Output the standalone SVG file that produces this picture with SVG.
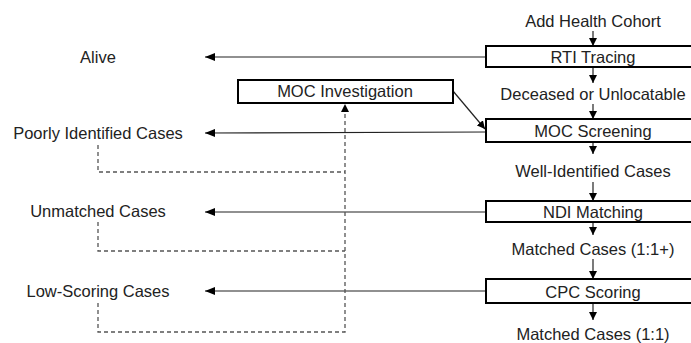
<svg xmlns="http://www.w3.org/2000/svg" width="691" height="343" viewBox="0 0 691 343">
<style>
text{font-family:"Liberation Sans",Arial,sans-serif;font-size:16.5px;fill:#222;text-anchor:middle}
.box{fill:#fff;stroke:#000;stroke-width:2}
.ln{fill:none;stroke:#222;stroke-width:1.2}
.ds{fill:none;stroke:#555;stroke-width:1.3;stroke-dasharray:4 3}
</style>
<defs>
<marker id="ah" markerUnits="userSpaceOnUse" markerWidth="10" markerHeight="8" refX="10" refY="4" orient="auto">
<path d="M0,0 L10,4 L0,8 Z" fill="#000"/>
</marker>
<marker id="ahs" markerUnits="userSpaceOnUse" markerWidth="8" markerHeight="8" refX="8" refY="4" orient="auto">
<path d="M0,0 L8,4 L0,8 Z" fill="#000"/>
</marker>
</defs>
<g id="connectors">
<line class="ln" x1="593" y1="31" x2="593" y2="46" marker-end="url(#ahs)"/>
<line class="ln" x1="593" y1="67" x2="593" y2="83" marker-end="url(#ahs)"/>
<line class="ln" x1="593" y1="104" x2="593" y2="119" marker-end="url(#ahs)"/>
<line class="ln" x1="593" y1="142" x2="593" y2="154" marker-end="url(#ahs)"/>
<line class="ln" x1="593" y1="182" x2="593" y2="201" marker-end="url(#ahs)"/>
<line class="ln" x1="593" y1="222" x2="593" y2="235" marker-end="url(#ahs)"/>
<line class="ln" x1="593" y1="259" x2="593" y2="279" marker-end="url(#ahs)"/>
<line class="ln" x1="593" y1="303" x2="593" y2="320" marker-end="url(#ahs)"/>
<line class="ln" x1="485" y1="57" x2="205" y2="57" marker-end="url(#ah)"/>
<line class="ln" x1="486" y1="132" x2="205" y2="133" marker-end="url(#ah)"/>
<line class="ln" x1="486" y1="212" x2="205" y2="212" marker-end="url(#ah)"/>
<line class="ln" x1="486" y1="291" x2="205" y2="291" marker-end="url(#ah)"/>
<line class="ln" x1="453" y1="91" x2="485" y2="129" marker-end="url(#ahs)"/>
<path class="ds" d="M98 145 V172 H345"/>
<path class="ds" d="M98 222 V251 H345"/>
<path class="ds" d="M98 303 V332 H345 V104" marker-end="url(#ahs)"/>
</g>
<g id="add-health"><text x="593" y="27">Add Health Cohort</text></g>
<g id="rti"><rect class="box" x="486" y="46" width="220" height="21"/><text x="593" y="63">RTI Tracing</text></g>
<g id="deceased"><text x="593" y="100">Deceased or Unlocatable</text></g>
<g id="moc-screening"><rect class="box" x="486" y="119" width="220" height="23"/><text x="593" y="137">MOC Screening</text></g>
<g id="well-identified"><text x="593" y="177">Well-Identified Cases</text></g>
<g id="ndi"><rect class="box" x="486" y="201" width="220" height="21"/><text x="593" y="218">NDI Matching</text></g>
<g id="matched-plus"><text x="593" y="255">Matched Cases (1:1+)</text></g>
<g id="cpc"><rect class="box" x="486" y="279" width="220" height="24"/><text x="593" y="298">CPC Scoring</text></g>
<g id="matched"><text x="593" y="340">Matched Cases (1:1)</text></g>
<g id="moc-investigation"><rect class="box" x="238" y="80" width="215" height="23"/><text x="345" y="97">MOC Investigation</text></g>
<g id="alive"><text x="98" y="63">Alive</text></g>
<g id="poorly"><text x="98" y="139">Poorly Identified Cases</text></g>
<g id="unmatched"><text x="98" y="217">Unmatched Cases</text></g>
<g id="low-scoring"><text x="98" y="297">Low-Scoring Cases</text></g>
</svg>
